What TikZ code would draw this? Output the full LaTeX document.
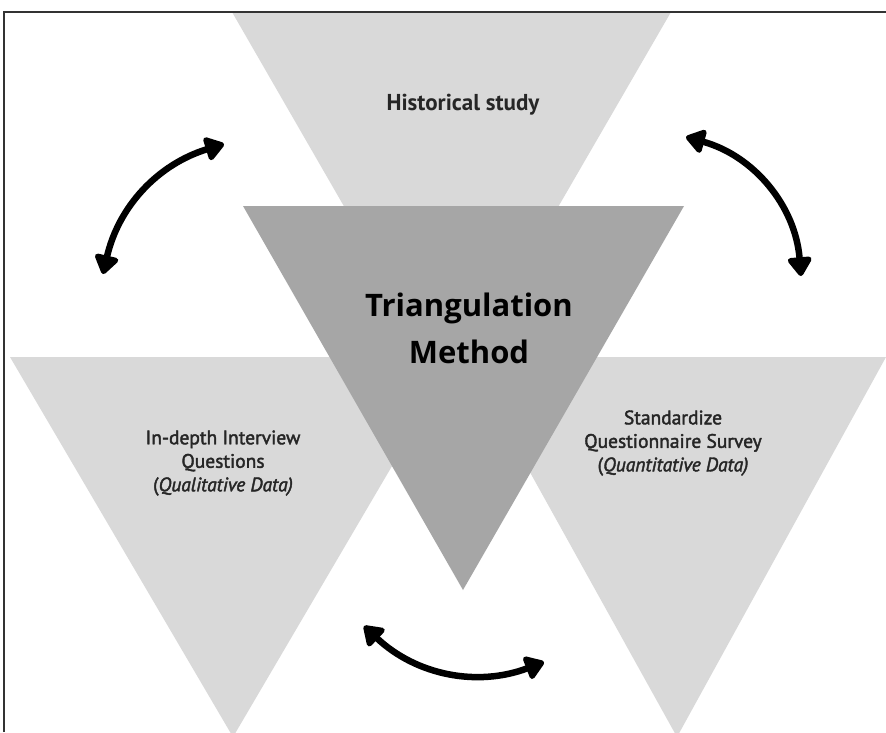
\documentclass[tikz,border=0pt]{standalone}
\usepackage{fontspec}
\setmainfont{Open Sans}
\newfontfamily\labelfont{PT Sans}[FakeBold=2]
\newfontfamily\headfont{PT Sans}
\usetikzlibrary{arrows.meta}

\definecolor{lightwedge}{HTML}{D9D9D9}
\definecolor{darkwedge}{HTML}{A6A6A6}
\definecolor{labeltext}{HTML}{262626}

\begin{document}
\begin{tikzpicture}[x=1pt,y=-1pt,
        wedge/.style={fill=lightwedge},
        core wedge/.style={fill=darkwedge},
        side label/.style={align=center,text=labeltext,font=\labelfont\fontsize{19.5}{23.5}\selectfont},
        head label/.style={text=labeltext,font=\headfont\bfseries\fontsize{23}{27}\selectfont},
        core label/.style={align=center,text=black,font=\fontsize{31}{47}\selectfont\bfseries},
        swap arrow/.style={line width=6.5pt,{Triangle[length=21pt,width=27pt,round]}-{Triangle[length=21pt,width=27pt,round]}}]

        \clip (0,0) rectangle (886,732);
        \fill[white] (0,0) rectangle (886,732);

        % corners of the four triangles
        \coordinate (h1) at (232,12);  \coordinate (h2) at (671,12);  \coordinate (h3) at (451,392);
        \coordinate (q1) at (10,357);  \coordinate (q2) at (456,357); \coordinate (q3) at (233,737);
        \coordinate (s1) at (466,357); \coordinate (s2) at (886,357); \coordinate (s3) at (677,737);
        \coordinate (c1) at (243,206); \coordinate (c2) at (684,206); \coordinate (c3) at (463,590);

        \fill[wedge] (h1) -- (h2) -- (h3) -- cycle;
        \fill[wedge] (q1) -- (q2) -- (q3) -- cycle;
        \fill[wedge] (s1) -- (s2) -- (s3) -- cycle;
        \fill[core wedge] (c1) -- (c2) -- (c3) -- cycle;

        \node[head label] (hist) at (463,105) {Historical study};
        \node[side label] (qual) at (223,463) {In-depth Interview\\Questions\\(\textit{Qualitative Data)}};
        \node[side label] (quant) at (673,443) {Standardize\\Questionnaire Survey\\(\textit{Quantitative Data)}};
        \node[core label] (core) at (469,328) {Triangulation\\Method};

        % arrow ends
        \coordinate (a1) at (103,274); \coordinate (a2) at (224,144);
        \coordinate (b1) at (686,137); \coordinate (b2) at (801,276);
        \coordinate (d1) at (364,626); \coordinate (d2) at (544,662);

        \draw[swap arrow] (a1) to[bend left=30] (a2);
        \draw[swap arrow] (b1) to[bend left=35] (b2);
        \draw[swap arrow] (d1) to[bend right=32] (d2);

        % frame
        \draw[line width=1.3pt,black!80] (4,732) -- (4,12) -- (886,12);
      \end{tikzpicture}
\end{document}
